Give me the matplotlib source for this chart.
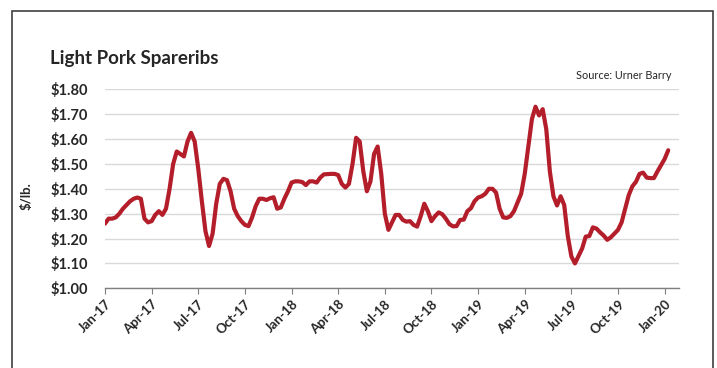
import matplotlib
matplotlib.use("Agg")
import matplotlib.pyplot as plt
import matplotlib.patches as mpatches

plt.rcParams['font.family'] = ['Lato', 'DejaVu Sans']

# weekly spare rib prices, Jan 2017 - Jan 2020 ($/lb.)
prices = [
    1.26, 1.28, 1.28, 1.285, 1.30, 1.32, 1.335, 1.35, 1.36, 1.365,
    1.36, 1.28, 1.265, 1.27, 1.295, 1.31, 1.295, 1.32, 1.40, 1.50,
    1.55, 1.54, 1.53, 1.59, 1.625, 1.59, 1.48, 1.35, 1.23, 1.17,
    1.22, 1.34, 1.42, 1.44, 1.435, 1.39, 1.32, 1.29, 1.27, 1.255,
    1.25, 1.285, 1.33, 1.36, 1.36, 1.355, 1.362, 1.366, 1.32, 1.325,
    1.36, 1.39, 1.425, 1.43, 1.43, 1.427, 1.415, 1.43, 1.43, 1.425,
    1.445, 1.458, 1.459, 1.46, 1.46, 1.455, 1.42, 1.405, 1.42, 1.50,
    1.605, 1.59, 1.47, 1.39, 1.43, 1.54, 1.57, 1.46, 1.30, 1.235,
    1.265, 1.295, 1.295, 1.275, 1.268, 1.27, 1.255, 1.248, 1.29, 1.34,
    1.31, 1.27, 1.29, 1.305, 1.298, 1.28, 1.258, 1.249, 1.25, 1.275,
    1.276, 1.31, 1.322, 1.35, 1.365, 1.37, 1.38, 1.40, 1.40, 1.385,
    1.32, 1.285, 1.283, 1.29, 1.31, 1.345, 1.38, 1.46, 1.57, 1.68,
    1.73, 1.695, 1.72, 1.64, 1.47, 1.37, 1.333, 1.37, 1.335, 1.21,
    1.128, 1.10, 1.13, 1.16, 1.208, 1.21, 1.245, 1.24, 1.225, 1.212,
    1.195, 1.205, 1.22, 1.235, 1.265, 1.32, 1.375, 1.41, 1.428, 1.46,
    1.465, 1.445, 1.443, 1.443, 1.47, 1.495, 1.52, 1.555,
]
weeks = list(range(len(prices)))

quarter_labels = ['Jan-17', 'Apr-17', 'Jul-17', 'Oct-17', 'Jan-18', 'Apr-18', 'Jul-18',
                  'Oct-18', 'Jan-19', 'Apr-19', 'Jul-19', 'Oct-19', 'Jan-20']
quarter_weeks = [13 * i for i in range(len(quarter_labels))]
y_ticks = [1.00, 1.10, 1.20, 1.30, 1.40, 1.50, 1.60, 1.70, 1.80]

W, H = 717, 368
fig = plt.figure(figsize=(W / 100, H / 100), dpi=100)
ax = fig.add_axes([105 / W, 1 - 288.3 / H, (679 - 105) / W, (288.3 - 89.3) / H])

ax.plot(weeks, prices, color='#B31E2A', linewidth=3.0, solid_joinstyle='round',
        solid_capstyle='round', zorder=3)

ax.set_xlim(0, 160)
ax.set_ylim(1.0, 1.8)
ax.set_yticks(y_ticks)
ax.set_yticklabels(['${:.2f}'.format(v) for v in y_ticks], fontsize=10.5, fontweight='bold', color='#262626')
ax.set_xticks(quarter_weeks)
ax.set_xticklabels(quarter_labels, rotation=45, ha='right', rotation_mode='anchor',
                   fontsize=9.5, fontweight='bold', color='#262626')

ax.grid(axis='y', color='#D9D9D9', linewidth=1)
ax.set_axisbelow(True)
for s in ['top', 'right', 'left']:
    ax.spines[s].set_visible(False)
ax.spines['bottom'].set_color('#7F7F7F')
ax.spines['bottom'].set_linewidth(1)
ax.tick_params(axis='y', length=0, pad=12)
ax.tick_params(axis='x', direction='out', length=4, color='#7F7F7F', pad=3)

fig.text(27 / W, 1 - 196 / H, '$/lb.', rotation=90, ha='center', va='center',
         fontsize=9.5, fontweight='bold', color='#262626')
fig.text(50 / W, 1 - 64 / H, 'Light Pork Spareribs', ha='left', va='baseline',
         fontsize=13.5, fontweight='bold', color='#262626')
fig.text(671 / W, 1 - 79 / H, 'Source: Urner Barry', ha='right', va='baseline',
         fontsize=7.8, color='#262626')

# outer frame of the chart box
frame = mpatches.Rectangle((12 / W, -0.1), (713 - 12) / W, 1.1 - 11 / H,
                           transform=fig.transFigure, fill=False,
                           edgecolor='#404040', linewidth=1.2, clip_on=False)
fig.patches.append(frame)

fig.savefig('out.png', dpi=100, facecolor='white')
